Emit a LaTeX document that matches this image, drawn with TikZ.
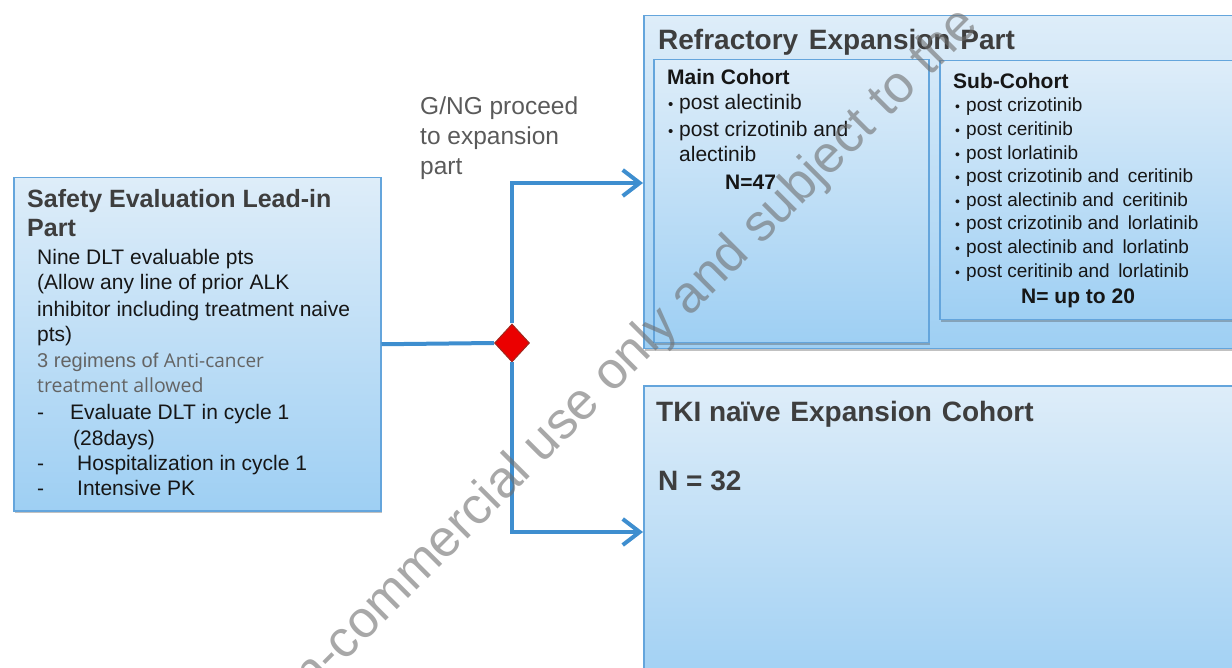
\documentclass[tikz,border=0pt]{standalone}
\usepackage{fontspec}
\setmainfont{Liberation Sans}
\newfontfamily\notefont{Open Sans}
\usetikzlibrary{arrows.meta,shapes.geometric,shadows}

\definecolor{linkblue}{RGB}{62,142,207}
\definecolor{frameblue}{RGB}{100,165,220}
\definecolor{fillTop}{RGB}{222,237,249}
\definecolor{fillBot}{RGB}{158,207,243}
\definecolor{headgrey}{RGB}{62,62,62}
\definecolor{bodyblack}{RGB}{22,22,22}
\definecolor{notegrey}{RGB}{100,100,100}
\definecolor{labelgrey}{RGB}{90,90,90}
\definecolor{gateRed}{RGB}{235,0,0}
\definecolor{gateEdge}{RGB}{160,40,30}
\definecolor{markgrey}{RGB}{110,110,110}

\newcommand\fsz[1]{\fontsize{#1}{#1}\selectfont}

\begin{document}
\begin{tikzpicture}[x=1pt,y=1pt,
  panel/.style={draw=frameblue, line width=1.5pt, top color=fillTop, bottom color=fillBot,
    drop shadow={shadow xshift=1.5pt, shadow yshift=-2.5pt, opacity=0.35, fill=black!70},
    anchor=north west, inner sep=0pt},
  txt/.style={anchor=base west, inner sep=0pt, text=bodyblack},
  head/.style={txt, text=headgrey, font=\bfseries\fsz{28}},
  leadbody/.style={txt, font=\fsz{21}},
  cohortbody/.style={txt, font=\fsz{21}},
  subbody/.style={txt, font=\fsz{19}},
  link/.style={draw=linkblue, line width=4pt},
  linkarrow/.style={link, -{Straight Barb[length=17pt,width=26pt,line width=4pt]}},
]
\useasboundingbox (0,0) rectangle (1232,-668);
\begin{scope}
\clip (0,0) rectangle (1232,-668);

% ---------- boxes ----------
\node[panel, minimum width=367pt, minimum height=333pt] (lead) at (13,-177) {};
\node[panel, minimum width=620pt, minimum height=333pt] (refr) at (643,-15) {};
\node[panel, minimum width=275pt, minimum height=283pt] (main) at (653,-59) {};
\node[panel, minimum width=320pt, minimum height=259pt] (sub) at (939,-60) {};
\node[panel, minimum width=620pt, minimum height=310pt] (tki) at (643,-385) {};

% ---------- lead-in part ----------
\node[txt, text=headgrey, font=\bfseries\fsz{25}] (leadT1) at (27,-208) {Safety Evaluation Lead-in};
\node[txt, text=headgrey, font=\bfseries\fsz{25}] (leadT2) at (27,-237) {Part};
\node[leadbody] (lb1) at (37,-265) {Nine DLT evaluable pts};
\node[leadbody] (lb2) at (37,-290) {(Allow any line of prior ALK};
\node[leadbody] (lb3) at (37,-317) {inhibitor including treatment naive};
\node[leadbody] (lb4) at (37,-342) {pts)};
\node[txt, text=notegrey, font=\fsz{20}] (ln1) at (37,-367) {3 regimens of {\notefont\fsz{19}Anti-cancer}};
\node[txt, text=notegrey, font=\notefont\fsz{19.5}] (ln2) at (37,-392) {treatment allowed};
\node[leadbody] (ld1) at (37,-419) {-};
\node[leadbody] (li1) at (70,-419) {Evaluate DLT in cycle 1};
\node[leadbody] (li1b) at (73,-445) {(28days)};
\node[leadbody] (ld2) at (37,-470) {-};
\node[leadbody] (li2) at (77,-470) {Hospitalization in cycle 1};
\node[leadbody] (ld3) at (37,-495) {-};
\node[leadbody] (li3) at (77,-495) {Intensive PK};

% ---------- gate label ----------
\node[txt, text=labelgrey, font=\fsz{24.5}] (g1) at (420,-115) {G/NG proceed};
\node[txt, text=labelgrey, font=\fsz{24.5}] (g2) at (420,-145) {to expansion};
\node[txt, text=labelgrey, font=\fsz{24.5}] (g3) at (420,-175) {part};

% ---------- refractory expansion part ----------
\node[head] (refrT) at (658,-50) {Refractory\hspace{3pt} Expansion\hspace{2pt} Part};
\node[cohortbody, font=\bfseries\fsz{21}] (mainT) at (667,-85) {Main Cohort};
\node[cohortbody] (m1) at (668,-110) {\makebox[11pt][l]{\fsz{15}\textbullet}post alectinib};
\node[cohortbody] (m2) at (668,-137) {\makebox[11pt][l]{\fsz{15}\textbullet}post crizotinib and};
\node[cohortbody] (m3) at (679,-162) {alectinib};
\node[cohortbody, font=\bfseries\fsz{21}] (mN) at (725,-190) {N=47};

\node[subbody, font=\bfseries\fsz{21}] (subT) at (953,-89) {Sub-Cohort};
\foreach \t [count=\k from 0] in {post crizotinib,post ceritinib,post lorlatinib,
  post crizotinib and\, ceritinib,post alectinib and\, ceritinib,
  post crizotinib and\, lorlatinib,post alectinib and\, lorlatinb,
  post ceritinib and\, lorlatinib}
  \node[subbody] (s\k) at (955,-112-23.6*\k) {\makebox[11pt][l]{\fsz{14}\textbullet}\t};
\node[subbody, font=\bfseries\fsz{21}] (subN) at (1021,-304) {N= up to 20};

% ---------- TKI naive cohort ----------
\node[head] (tkiT) at (656,-421) {TKI na\"ive\hspace{2pt} Expansion\hspace{2pt} Cohort};
\node[head] (tkiN) at (658,-490) {N = 32};

% ---------- connectors ----------
\node[diamond, fill=gateRed, draw=gateEdge, line width=1pt, inner sep=0pt,
      minimum width=35pt, minimum height=38pt] (gate) at (512,-343) {};
\coordinate (upY) at (0,-183);
\coordinate (lowY) at (0,-532);
\draw[link] (lead.east) -- (gate.west);
\draw[linkarrow] (gate.north) |- (refr.west |- upY);
\draw[linkarrow] (gate.south) |- (tki.west |- lowY);

% ---------- watermark ----------
\node[anchor=base west, inner sep=0pt, rotate=45, text=markgrey, opacity=0.6,
      font=\fsz{52}] (wm) at (271,-736) {non-commercial use only and subject to the};
\end{scope}
\end{tikzpicture}
\end{document}
